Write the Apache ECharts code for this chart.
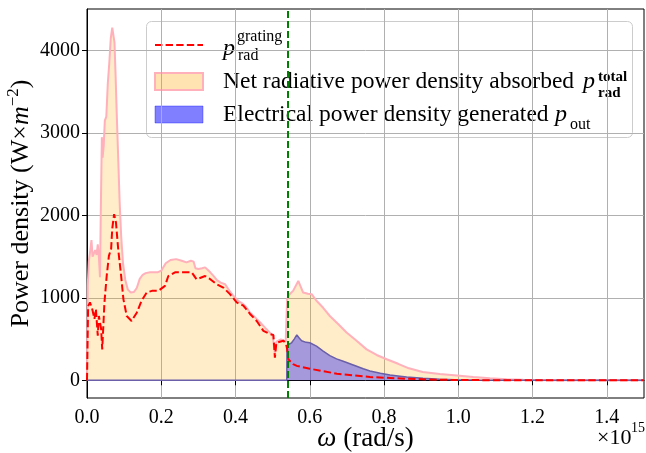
<!DOCTYPE html>
<html><head><meta charset="utf-8">
<script src="https://cdn.jsdelivr.net/npm/echarts@6/dist/echarts.min.js"></script>
<style>html,body{margin:0;padding:0;background:#fff}#c{width:646px;height:453px}</style>
</head><body><div id="c"></div>
<script>
// omega in units of 1e15 rad/s
const totalOmega = [0, 0.002, 0.005, 0.009, 0.012, 0.015, 0.018, 0.022, 0.026, 0.029,
  0.032, 0.035, 0.037, 0.040, 0.042, 0.045, 0.048, 0.052, 0.056, 0.060,
  0.064, 0.068, 0.071, 0.074, 0.077, 0.080, 0.084, 0.088, 0.092, 0.097,
  0.103, 0.110, 0.118, 0.126, 0.134, 0.142, 0.150, 0.158, 0.170, 0.190,
  0.200, 0.212, 0.225, 0.240, 0.255, 0.268, 0.280, 0.287, 0.292, 0.300,
  0.310, 0.318, 0.325, 0.332, 0.340, 0.350, 0.360, 0.372, 0.380, 0.394,
  0.407, 0.421, 0.430, 0.440, 0.450, 0.460, 0.470, 0.480, 0.490, 0.500,
  0.503, 0.506, 0.510, 0.515, 0.522, 0.529, 0.535, 0.538, 0.539, 0.545,
  0.555, 0.569, 0.576, 0.582, 0.595, 0.605, 0.618, 0.636, 0.654, 0.677,
  0.699, 0.726, 0.753, 0.780, 0.807, 0.838, 0.867, 0.904, 0.950, 0.996,
  1.040, 1.085, 1.130, 1.175, 1.250, 1.350, 1.500];
const totalPower = [0, 1150, 1450, 1580, 1700, 1500, 1480, 1580, 1520, 1650,
  1500, 1250, 2000, 2950, 2700, 2850, 3150, 3200, 3600, 3850,
  4150, 4280, 4290, 4100, 3700, 3250, 2700, 2150, 1750, 1420,
  1220, 1100, 1065, 1070, 1120, 1230, 1280, 1300, 1310, 1310,
  1330, 1420, 1460, 1470, 1450, 1430, 1450, 1440, 1360, 1350,
  1360, 1370, 1340, 1310, 1270, 1215, 1185, 1165, 1110, 1025,
  965, 925, 880, 815, 775, 730, 685, 635, 590, 545,
  530, 320, 470, 480, 495, 485, 465, 470, 985, 1040,
  1085, 1205, 1130, 1065, 1050, 1045, 965, 880, 780, 680,
  580, 480, 375, 307, 255, 200, 145, 100, 75, 58,
  40, 24, 12, 5, 1, 0, 0];

const gratingOmega = [0, 0.003, 0.008, 0.014, 0.020, 0.024, 0.029, 0.032, 0.038, 0.041,
  0.047, 0.053, 0.059, 0.065, 0.068, 0.073, 0.078, 0.084, 0.092, 0.098,
  0.107, 0.120, 0.134, 0.147, 0.161, 0.175, 0.192, 0.210, 0.219, 0.237,
  0.260, 0.282, 0.295, 0.318, 0.331, 0.349, 0.367, 0.385, 0.403, 0.421,
  0.439, 0.457, 0.475, 0.493, 0.502, 0.506, 0.510, 0.515, 0.529, 0.536,
  0.539, 0.542, 0.555, 0.565, 0.600, 0.673, 0.762, 0.855, 0.945, 1.050,
  1.200, 1.500];
const gratingPower = [0, 900, 945, 865, 745, 865, 540, 780, 625, 375,
  945, 1265, 1510, 1595, 1840, 2015, 1915, 1590, 1265, 985,
  780, 720, 820, 965, 1065, 1085, 1085, 1145, 1265, 1310,
  1310, 1310, 1225, 1265, 1230, 1165, 1125, 1045, 945, 905,
  805, 720, 600, 560, 550, 275, 455, 470, 480, 440,
  380, 255, 195, 175, 140, 80, 40, 20, 6, 2,
  0, 0];

const outOmega = [0, 0.538, 0.5385, 0.545, 0.551, 0.558, 0.565, 0.572, 0.578, 0.590,
  0.600, 0.618, 0.636, 0.654, 0.672, 0.690, 0.717, 0.744, 0.762, 0.790,
  0.816, 0.843, 0.861, 0.905, 0.950, 0.990, 1.050, 1.150, 1.500];
const outPower = [0, 0, 420, 440, 455, 500, 550, 510, 480, 460,
  455, 415, 355, 300, 260, 230, 185, 140, 113, 85,
  64, 50, 40, 24, 12, 6, 2, 0, 0];

const bandgapOmega = 0.538;
const xTicks = [0, 0.2, 0.4, 0.6, 0.8, 1.0, 1.2, 1.4];
const yTicks = [0, 1000, 2000, 3000, 4000];

const zip = (a, b) => a.map((v, i) => [v, b[i]]);
const FF = "'Liberation Serif', 'DejaVu Serif', serif";

const chart = echarts.init(document.getElementById('c'), null, {renderer: 'canvas'});
const option = {
  animation: false,
  backgroundColor: '#fff',
  textStyle: {fontFamily: FF},
  grid: {left: 87, right: 2, top: 9, bottom: 55, containLabel: false, outerBoundsMode: 'none',
    show: true, borderColor: '#000', borderWidth: 1, backgroundColor: 'transparent'},
  xAxis: {
    type: 'value', min: 0, max: 1.5, interval: 0.2,
    name: '{it|ω} (rad/s)', nameLocation: 'middle', nameGap: 27, nameMoveOverlap: false,
    nameTextStyle: {fontFamily: FF, fontSize: 27, color: '#000', rich: {it: {fontFamily: FF, fontSize: 27, fontStyle: 'italic', color: '#000'}}},
    axisLine: {show: true, lineStyle: {color: '#000', width: 1}},
    axisTick: {show: true, customValues: xTicks, length: 5, lineStyle: {color: '#000', width: 1}},
    axisLabel: {customValues: xTicks, margin: 10, fontSize: 20, color: '#000', fontFamily: FF, formatter: v => v.toFixed(1)},
    splitLine: {show: true, lineStyle: {color: '#b0b0b0', width: 1}}
  },
  yAxis: {
    type: 'value', min: -215, max: 4505, splitNumber: 5,
    name: 'Power density (W×{it|m}{sup|−2})', nameLocation: 'middle', nameRotate: 90, nameGap: 50, nameMoveOverlap: false,
    nameTextStyle: {fontFamily: FF, fontSize: 26, color: '#000', lineHeight: 32,
      rich: {it: {fontFamily: FF, fontSize: 26, fontStyle: 'italic', color: '#000', lineHeight: 32},
             sup: {fontFamily: FF, fontSize: 17, color: '#000', verticalAlign: 'top', lineHeight: 18}}},
    axisLine: {show: true, lineStyle: {color: '#000', width: 1}},
    axisTick: {show: true, customValues: yTicks, length: 5, lineStyle: {color: '#000', width: 1}},
    axisLabel: {customValues: yTicks, margin: 7, fontSize: 20, color: '#000', fontFamily: FF, formatter: v => String(v)},
    splitLine: {show: true, lineStyle: {color: '#b0b0b0', width: 1}}
  },
  series: [
    {
      type: 'line', name: 'total', data: zip(totalOmega, totalPower), symbol: 'none', z: 2,
      lineStyle: {color: '#ffb0ba', width: 2}, itemStyle: {color: '#ffb0ba'},
      areaStyle: {color: 'rgba(255,165,0,0.3)', origin: 0}
    },
    {
      type: 'line', name: 'out', data: zip(outOmega, outPower), symbol: 'none', z: 3,
      lineStyle: {color: '#6a5fa8', width: 1.5}, itemStyle: {color: '#6a5fa8'},
      areaStyle: {color: 'rgba(0,0,255,0.5)', origin: 0}
    },
    {
      type: 'line', name: 'grating', data: zip(gratingOmega, gratingPower), symbol: 'none', z: 4,
      lineStyle: {color: '#ff0000', width: 2, type: [7.4, 3.2]}, itemStyle: {color: '#ff0000'},
      markLine: {silent: true, symbol: ['none', 'none'], label: {show: false},
        lineStyle: {color: '#008000', width: 2, type: [7, 3]},
        data: [{xAxis: bandgapOmega}]}
    }
  ],
  graphic: [
    {type: 'text', left: 597, top: 427, z: 10, style: {text: '×10', font: `22px ${FF}`, fill: '#000'}},
    {type: 'text', left: 631, top: 421, z: 10, style: {text: '15', font: `14px ${FF}`, fill: '#000'}},
    {type: 'group', left: 146, top: 21, z: 20, children: [
      {type: 'rect', shape: {x: 0.5, y: 0.5, width: 486, height: 116, r: 5}, style: {fill: 'rgba(255,255,255,0.8)', stroke: '#cccccc', lineWidth: 1}},
      {type: 'line', shape: {x1: 9, y1: 24, x2: 57, y2: 24}, style: {stroke: '#ff0000', lineWidth: 2, lineDash: [7.4, 3.2]}},
      {type: 'text', x: 77, y: 28, style: {text: 'p', font: `italic 24px ${FF}`, fill: '#000', verticalAlign: 'middle'}},
      {type: 'text', x: 91, y: 16, style: {text: 'grating', font: `16px ${FF}`, fill: '#000', verticalAlign: 'middle'}},
      {type: 'text', x: 92, y: 35, style: {text: 'rad', font: `16px ${FF}`, fill: '#000', verticalAlign: 'middle'}},
      {type: 'rect', shape: {x: 9, y: 52, width: 48, height: 17}, style: {fill: 'rgba(255,165,0,0.3)', stroke: '#ffb0ba', lineWidth: 2}},
      {type: 'text', x: 77, y: 61, style: {text: 'Net radiative power density absorbed', font: `23.5px ${FF}`, fill: '#000', verticalAlign: 'middle'}},
      {type: 'text', x: 437, y: 61, style: {text: 'p', font: `italic 24px ${FF}`, fill: '#000', verticalAlign: 'middle'}},
      {type: 'text', x: 452, y: 56, style: {text: 'total', font: `bold 15px ${FF}`, fill: '#000', verticalAlign: 'middle'}},
      {type: 'text', x: 452, y: 72, style: {text: 'rad', font: `bold 15px ${FF}`, fill: '#000', verticalAlign: 'middle'}},
      {type: 'rect', shape: {x: 9, y: 85, width: 48, height: 17}, style: {fill: 'rgba(0,0,255,0.5)', stroke: 'rgba(0,0,255,0.35)', lineWidth: 1}},
      {type: 'text', x: 77, y: 94, style: {text: 'Electrical power density generated', font: `23.5px ${FF}`, fill: '#000', verticalAlign: 'middle'}},
      {type: 'text', x: 409, y: 94, style: {text: 'p', font: `italic 24px ${FF}`, fill: '#000', verticalAlign: 'middle'}},
      {type: 'text', x: 424, y: 104, style: {text: 'out', font: `16px ${FF}`, fill: '#000', verticalAlign: 'middle'}}
    ]}
  ]
};
chart.setOption(option);
</script></body></html>
